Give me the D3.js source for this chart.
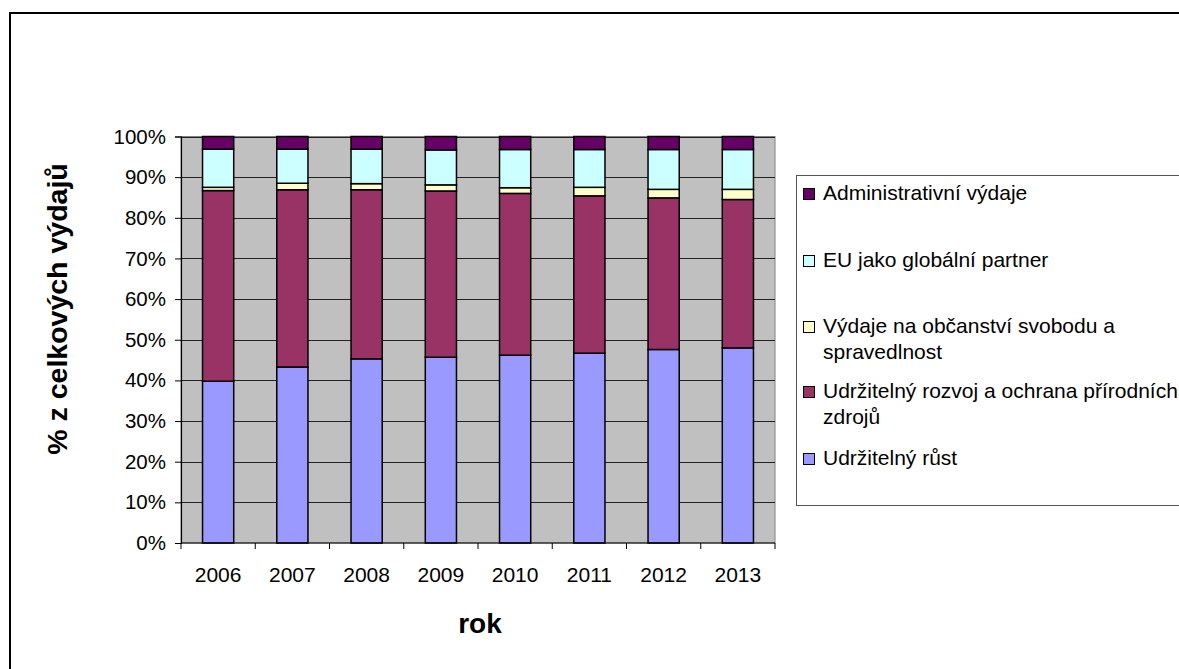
<!DOCTYPE html>
<html>
<head>
<meta charset="utf-8">
<script src="https://cdn.jsdelivr.net/npm/d3@7"></script>
<style>
  html, body { margin: 0; padding: 0; background: #fff; }
  svg { display: block; font-family: "Liberation Sans", Arial, sans-serif; }
</style>
</head>
<body>
<svg id="chart" width="1179" height="669"></svg>
<script>
// Years on the x axis
const years = ["2006", "2007", "2008", "2009", "2010", "2011", "2012", "2013"];

// Share of total expenditure (%) per heading, bottom to top of each stack
const rust      = [39.8, 43.3, 45.3, 45.7, 46.2, 46.7, 47.6, 48.0]; // Udržitelný růst
const rozvoj    = [46.9, 43.6, 41.6, 40.9, 39.8, 38.7, 37.3, 36.5]; // Udržitelný rozvoj a ochrana přírodních zdrojů
const obcanstvi = [0.8, 1.6, 1.5, 1.5, 1.4, 2.1, 2.1, 2.5];         // Výdaje na občanství svobodu a spravedlnost
const eu        = [9.4, 8.4, 8.5, 8.6, 9.4, 9.3, 9.8, 9.8];         // EU jako globální partner
const admin     = [3.1, 3.1, 3.1, 3.3, 3.2, 3.2, 3.2, 3.2];         // Administrativní výdaje

const seriesNames = [
  "Udržitelný růst",
  "Udržitelný rozvoj a ochrana přírodních zdrojů",
  "Výdaje na občanství svobodu a spravedlnost",
  "EU jako globální partner",
  "Administrativní výdaje"
];
const seriesValues = [rust, rozvoj, obcanstvi, eu, admin];
const seriesColors = ["#9999FF", "#993366", "#FFFFCC", "#CCFFFF", "#660066"];

const yTicks = [0, 10, 20, 30, 40, 50, 60, 70, 80, 90, 100];

const svg = d3.select("#chart");

// outer chart frame
svg.append("rect")
  .attr("x", 10).attr("y", 13)
  .attr("width", 1200).attr("height", 700)
  .attr("fill", "#fff").attr("stroke", "#000").attr("stroke-width", 2);

const plot = { left: 181, top: 136.5, right: 775, bottom: 543 };

const x = d3.scaleBand().domain(years).range([plot.left, plot.right]).paddingInner(0.58).paddingOuter(0.29);
const xb = d3.scaleBand().domain(years).range([plot.left, plot.right]);
const y = d3.scaleLinear().domain([0, 100]).range([plot.bottom, plot.top]);

// plot background
svg.append("rect")
  .attr("x", plot.left).attr("y", plot.top)
  .attr("width", plot.right - plot.left).attr("height", plot.bottom - plot.top)
  .attr("fill", "#C0C0C0").attr("stroke", "#808080").attr("stroke-width", 1);

// horizontal gridlines
svg.append("g").selectAll("line")
  .data(yTicks.filter(t => t > 0))
  .join("line")
  .attr("x1", plot.left).attr("x2", plot.right)
  .attr("y1", d => Math.round(y(d)) + 0.5).attr("y2", d => Math.round(y(d)) + 0.5)
  .attr("stroke", "#222").attr("stroke-width", 1);

// stacked data
const table = years.map((yr, i) => {
  const row = { year: yr };
  seriesNames.forEach((n, k) => { row[n] = seriesValues[k][i]; });
  return row;
});
const stacked = d3.stack().keys(seriesNames)(table);

svg.append("g").selectAll("g")
  .data(stacked)
  .join("g")
  .attr("fill", (d, i) => seriesColors[i])
  .selectAll("rect")
  .data(d => d)
  .join("rect")
  .attr("x", d => x(d.data.year))
  .attr("width", x.bandwidth())
  .attr("y", d => y(d[1]))
  .attr("height", d => y(d[0]) - y(d[1]))
  .attr("stroke", "#000").attr("stroke-width", 1.5);

// y axis
const yAxis = d3.axisLeft(y).tickValues(yTicks).tickFormat(d => d + "%").tickSize(6).tickPadding(9);
const gy = svg.append("g").attr("transform", `translate(${plot.left},0)`).call(yAxis);
gy.select(".domain").attr("stroke", "#000").attr("stroke-width", 1.2);
gy.selectAll(".tick line").attr("stroke", "#000");
gy.selectAll(".tick text").attr("font-size", 20.5).attr("fill", "#000")
  .attr("font-family", "'Liberation Sans', Arial, sans-serif");

// x axis, ticks on category boundaries
const gx = svg.append("g").attr("transform", `translate(0,${plot.bottom})`);
gx.append("line").attr("x1", plot.left).attr("x2", plot.right)
  .attr("y1", 0).attr("y2", 0).attr("stroke", "#000").attr("stroke-width", 1.2);
gx.selectAll("line.tk")
  .data(years.map(yr => xb(yr)).concat([plot.right]))
  .join("line").attr("class", "tk")
  .attr("x1", d => d).attr("x2", d => d).attr("y1", 0).attr("y2", 6)
  .attr("stroke", "#000");
gx.selectAll("text")
  .data(years)
  .join("text")
  .attr("x", d => xb(d) + xb.bandwidth() / 2)
  .attr("y", 39)
  .attr("text-anchor", "middle")
  .attr("font-size", 21)
  .text(d => d);

// axis titles
svg.append("text")
  .attr("x", 480).attr("y", 633)
  .attr("text-anchor", "middle")
  .attr("font-size", 28).attr("font-weight", "bold")
  .text("rok");

svg.append("text")
  .attr("transform", "translate(67,309) rotate(-90)")
  .attr("text-anchor", "middle")
  .attr("font-size", 28.5).attr("font-weight", "bold")
  .text("% z celkových výdajů");

// legend
const legend = svg.append("g");
legend.append("rect")
  .attr("x", 796.5).attr("y", 175.5)
  .attr("width", 500).attr("height", 330)
  .attr("fill", "#fff").attr("stroke", "#555").attr("stroke-width", 1);

const legendItems = [
  { k: 4, lines: ["Administrativní výdaje"], y: 200 },
  { k: 3, lines: ["EU jako globální partner"], y: 267 },
  { k: 2, lines: ["Výdaje na občanství svobodu a", "spravedlnost"], y: 333 },
  { k: 1, lines: ["Udržitelný rozvoj a ochrana přírodních", "zdrojů"], y: 398 },
  { k: 0, lines: ["Udržitelný růst"], y: 465 }
];
const li = legend.selectAll("g.item").data(legendItems).join("g").attr("class", "item");
li.append("rect")
  .attr("x", 803.5).attr("y", d => d.y - 11.5)
  .attr("width", 11).attr("height", 11)
  .attr("fill", d => seriesColors[d.k])
  .attr("stroke", "#000").attr("stroke-width", 1);
li.each(function(d) {
  const t = d3.select(this).append("text")
    .attr("x", 823).attr("y", d.y)
    .attr("font-size", 21);
  d.lines.forEach((s, j) => {
    t.append("tspan").attr("x", 823).attr("dy", j === 0 ? 0 : 26).text(s);
  });
});
</script>
</body>
</html>
